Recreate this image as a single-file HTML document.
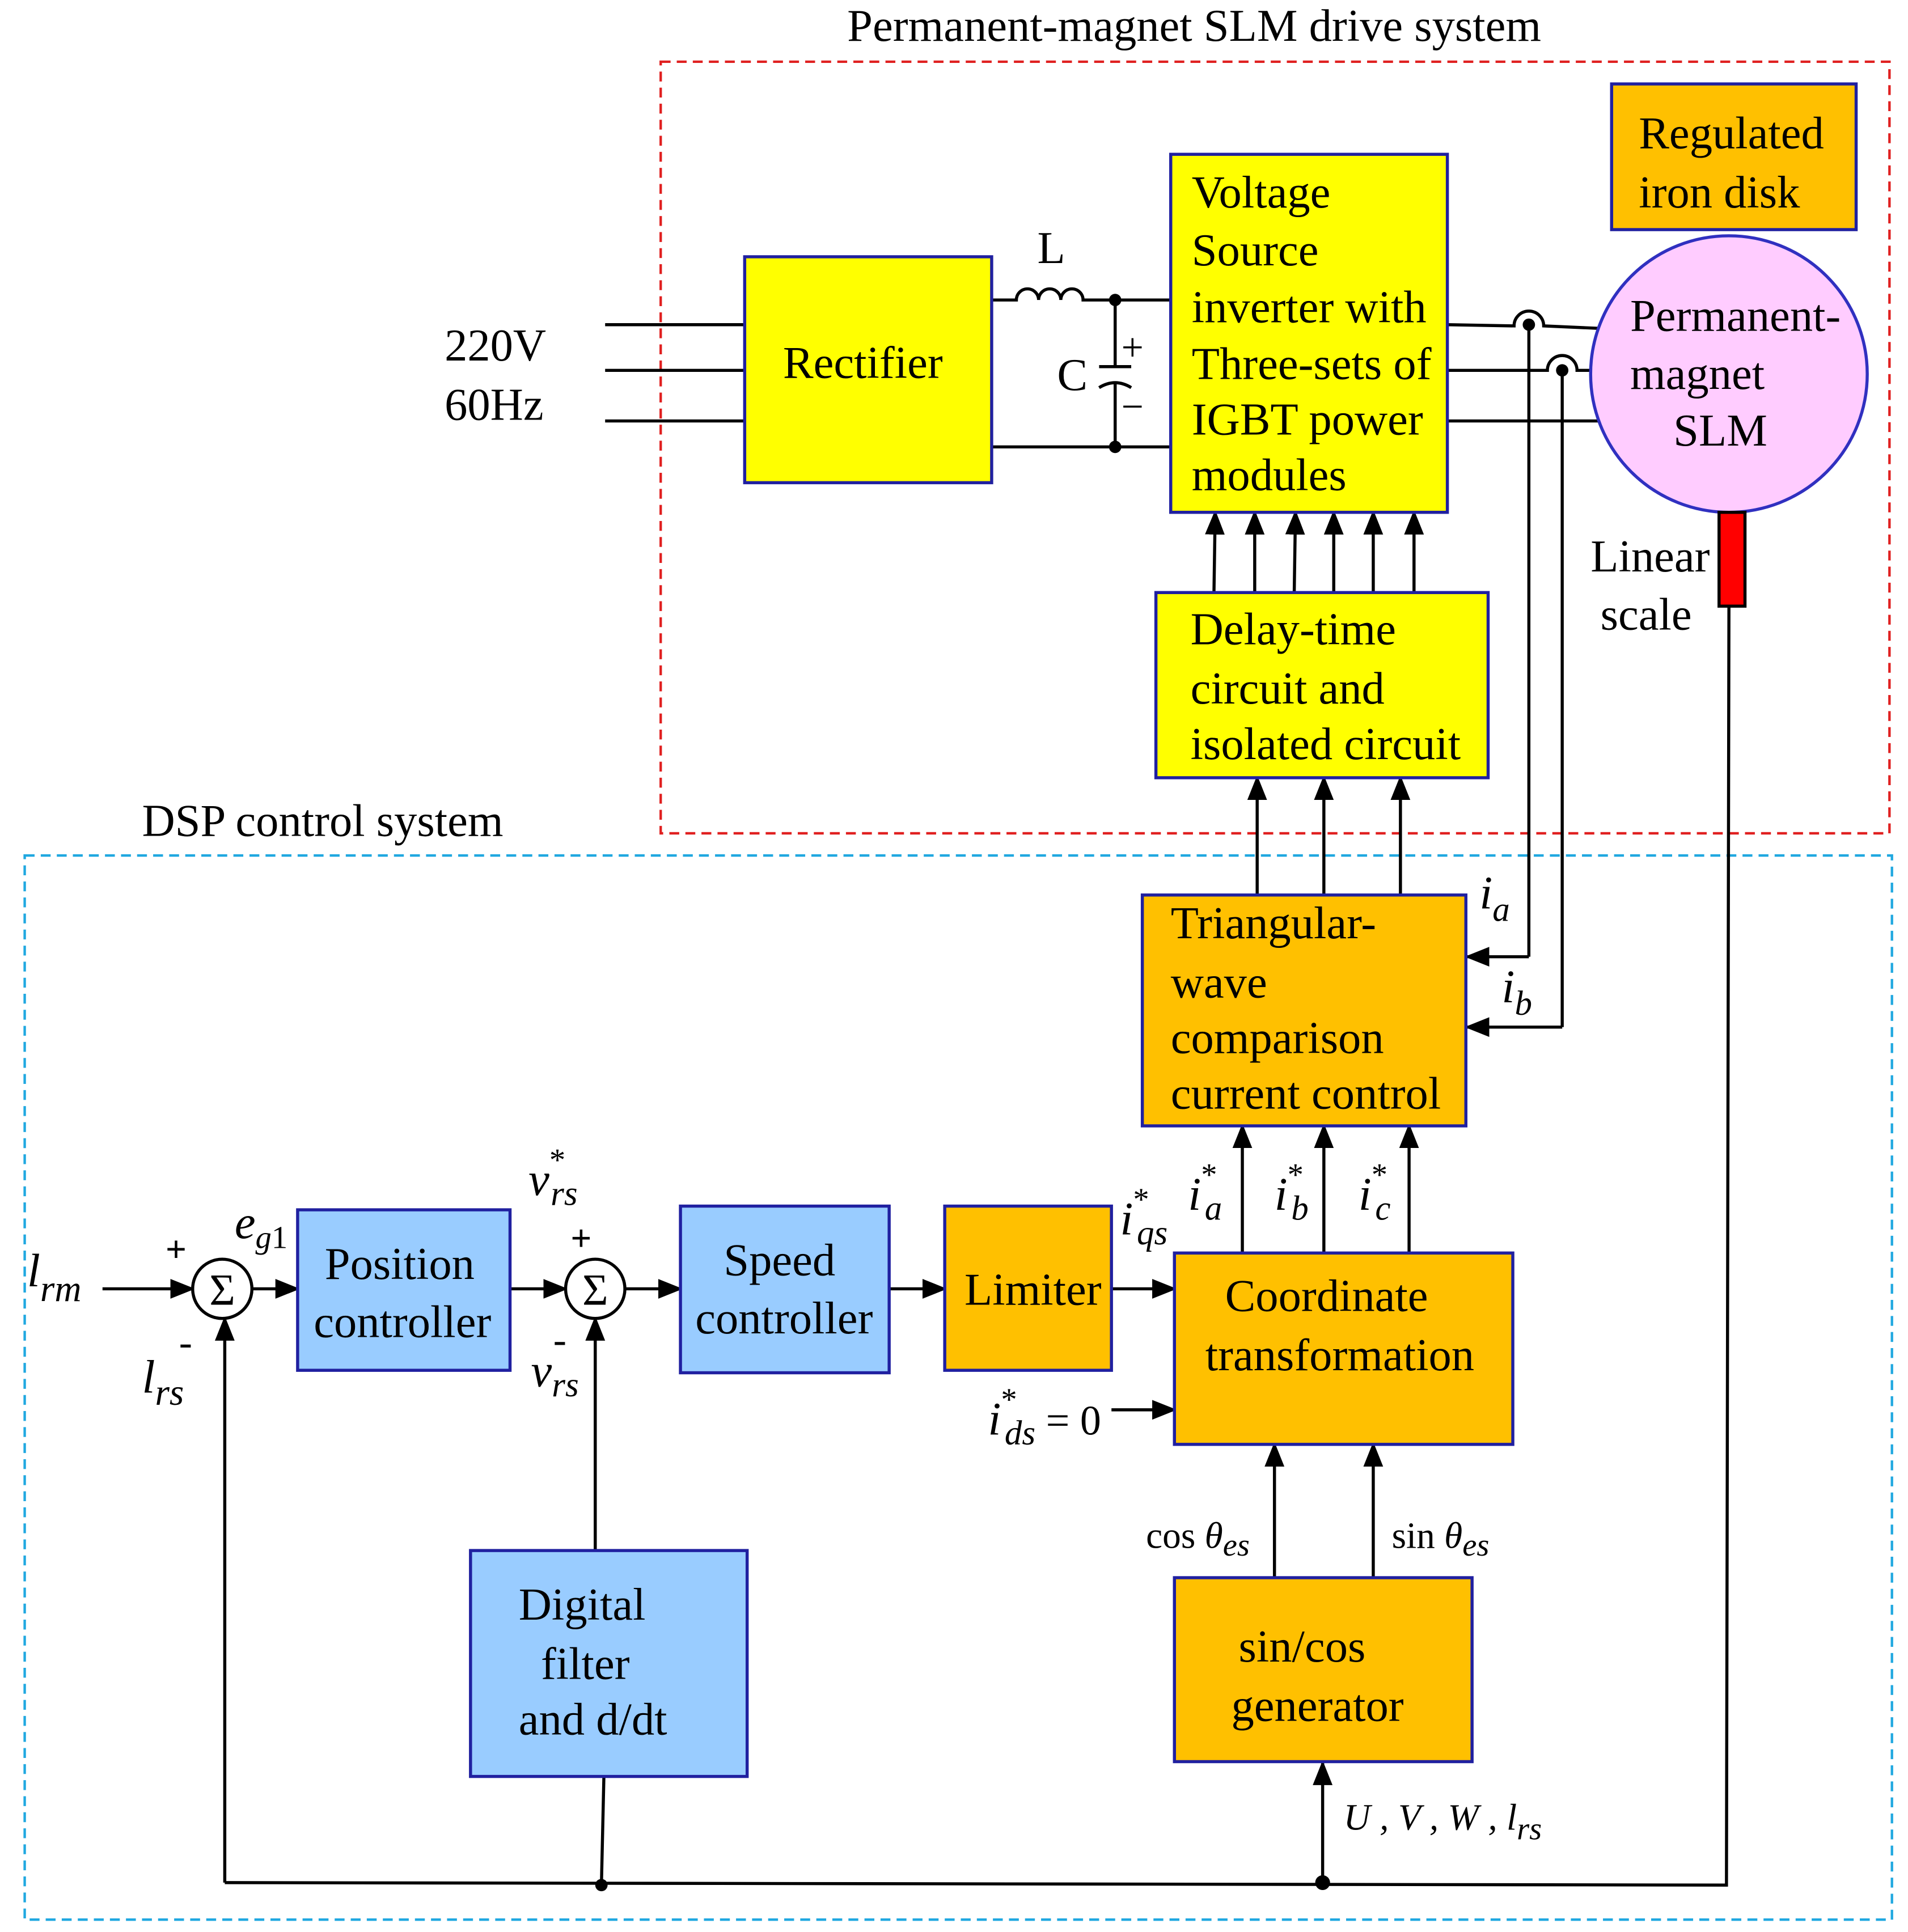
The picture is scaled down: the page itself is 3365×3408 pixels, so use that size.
<!DOCTYPE html>
<html><head><meta charset="utf-8"><style>
html,body{margin:0;padding:0;background:#fff;}
svg{display:block;}
text{font-family:"Liberation Serif",serif;fill:#000;}
.b{font-size:37px;}
.i{font-style:italic;}
</style></head><body>
<svg width="3365" height="3408" viewBox="0 0 1545 1565" preserveAspectRatio="none" xmlns="http://www.w3.org/2000/svg">
<defs>
<marker id="A" markerWidth="20" markerHeight="20" refX="18" refY="10" orient="auto" markerUnits="userSpaceOnUse" viewBox="0 0 20 20">
<path d="M0,2 L20,10 L0,18 z" fill="#000"/></marker>
</defs>
<rect x="0" y="0" width="1545" height="1565" fill="#fff"/>
<rect x="535" y="50" width="995" height="625" fill="none" stroke="#e02020" stroke-width="2" stroke-dasharray="8,5"/>
<rect x="20" y="693" width="1512" height="862" fill="none" stroke="#20a8e0" stroke-width="2" stroke-dasharray="8,5"/>
<text x="967" y="33" font-size="37" text-anchor="middle">Permanent-magnet SLM drive system</text>
<text x="115" y="677" font-size="37">DSP control system</text>

<g stroke="#000" stroke-width="2.5" fill="none">
<line x1="490" y1="263" x2="603" y2="263"/><line x1="490" y1="300" x2="603" y2="300"/><line x1="490" y1="341" x2="603" y2="341"/>
<path d="M803,243 L823,243 a9,9 0 0 1 18,0 a9,9 0 0 1 18,0 a9,9 0 0 1 18,0 L948,243"/>
<path d="M803,362 L948,362"/>
<path d="M903,243 L903,297 M890,297 L916,297 M890,314 Q903,306 916,314 M903,310 L903,362"/>
<path d="M1172,263 L1226,264 a12,12 0 0 1 24,0 L1295,266"/>
<path d="M1172,300 L1253,300 a12,12 0 0 1 24,0 L1290,300"/>
<path d="M1172,341 L1295,341"/>
<line x1="1238" y1="263" x2="1238" y2="775"/>
<line x1="1265" y1="300" x2="1265" y2="832"/>
<line x1="1238" y1="775" x2="1188" y2="775" marker-end="url(#A)"/>
<line x1="1265" y1="832" x2="1188" y2="832" marker-end="url(#A)"/>
<line x1="983" y1="480" x2="984" y2="415" marker-end="url(#A)"/>
<line x1="1016" y1="480" x2="1016" y2="415" marker-end="url(#A)"/>
<line x1="1048" y1="480" x2="1049" y2="415" marker-end="url(#A)"/>
<line x1="1080" y1="480" x2="1080" y2="415" marker-end="url(#A)"/>
<line x1="1112" y1="480" x2="1112" y2="415" marker-end="url(#A)"/>
<line x1="1145" y1="480" x2="1145" y2="415" marker-end="url(#A)"/>
<line x1="1018" y1="725" x2="1018" y2="630" marker-end="url(#A)"/>
<line x1="1072" y1="725" x2="1072" y2="630" marker-end="url(#A)"/>
<line x1="1134" y1="725" x2="1134" y2="630" marker-end="url(#A)"/>
<line x1="1006" y1="1015" x2="1006" y2="912" marker-end="url(#A)"/>
<line x1="1072" y1="1015" x2="1072" y2="912" marker-end="url(#A)"/>
<line x1="1141" y1="1015" x2="1141" y2="912" marker-end="url(#A)"/>
<path d="M1400,491 L1398,1527 L182,1525"/>
<line x1="182" y1="1525" x2="182" y2="1068" marker-end="url(#A)"/>
<line x1="489" y1="1439" x2="487" y2="1527"/>
<line x1="482" y1="1256" x2="482" y2="1068" marker-end="url(#A)"/>
<line x1="1071" y1="1525" x2="1071" y2="1428" marker-end="url(#A)"/>
<line x1="1032" y1="1278" x2="1032" y2="1170" marker-end="url(#A)"/>
<line x1="1112" y1="1278" x2="1112" y2="1170" marker-end="url(#A)"/>
<line x1="83" y1="1044" x2="156" y2="1044" marker-end="url(#A)"/>
<line x1="204" y1="1044" x2="241" y2="1044" marker-end="url(#A)"/>
<line x1="413" y1="1044" x2="458" y2="1044" marker-end="url(#A)"/>
<line x1="506" y1="1044" x2="551" y2="1044" marker-end="url(#A)"/>
<line x1="720" y1="1044" x2="765" y2="1044" marker-end="url(#A)"/>
<line x1="900" y1="1044" x2="951" y2="1044" marker-end="url(#A)"/>
<line x1="900" y1="1142" x2="951" y2="1142" marker-end="url(#A)"/>
</g>
<g fill="#000">
<circle cx="903" cy="243" r="5"/><circle cx="903" cy="362" r="5"/>
<circle cx="1238" cy="263" r="5"/><circle cx="1265" cy="300" r="5"/>
<circle cx="487" cy="1527" r="5"/><circle cx="1071" cy="1525" r="6"/>
</g>

<g stroke="#2020a0" stroke-width="2.5">
<rect x="603" y="208" width="200" height="183" fill="#ffff00"/>
<rect x="948" y="125" width="224" height="290" fill="#ffff00"/>
<rect x="1305" y="68" width="198" height="118" fill="#ffc000"/>
<circle cx="1400" cy="303" r="112" fill="#ffccff" stroke="#3030c0"/>
<rect x="1392" y="415" width="21" height="76" fill="#ff0000" stroke="#000"/>
<rect x="936" y="480" width="269" height="150" fill="#ffff00"/>
<rect x="925" y="725" width="262" height="187" fill="#ffc000"/>
<rect x="951" y="1015" width="274" height="155" fill="#ffc000"/>
<rect x="951" y="1278" width="241" height="149" fill="#ffc000"/>
<rect x="765" y="977" width="135" height="133" fill="#ffc000"/>
<rect x="551" y="977" width="169" height="135" fill="#99ccff"/>
<rect x="241" y="980" width="172" height="130" fill="#99ccff"/>
<rect x="381" y="1256" width="224" height="183" fill="#99ccff"/>
</g>
<circle cx="180" cy="1044" r="24" fill="#fff" stroke="#000" stroke-width="2.5"/>
<circle cx="482" cy="1044" r="24" fill="#fff" stroke="#000" stroke-width="2.5"/>
<text x="180" y="1057" font-size="36" text-anchor="middle">Σ</text>
<text x="482" y="1057" font-size="36" text-anchor="middle">Σ</text>

<g class="b">
<text x="360" y="292">220V</text><text x="360" y="340">60Hz</text>
<text x="840" y="213">L</text><text x="856" y="316">C</text>
<text x="908" y="292" font-size="32">+</text><text x="908" y="340" font-size="32">−</text>
<text x="634" y="306">Rectifier</text>
<text x="965" y="168">Voltage</text><text x="965" y="215">Source</text><text x="965" y="261">inverter with</text>
<text x="965" y="307">Three-sets of</text><text x="965" y="352">IGBT power</text><text x="965" y="397">modules</text>
<text x="1327" y="120">Regulated</text><text x="1327" y="168">iron disk</text>
<text x="1320" y="268">Permanent-</text><text x="1320" y="315">magnet</text><text x="1355" y="361">SLM</text>
<text x="1288" y="463">Linear</text><text x="1296" y="510">scale</text>
<text x="964" y="522">Delay-time</text><text x="964" y="570">circuit and</text><text x="964" y="615">isolated circuit</text>
<text x="948" y="760">Triangular-</text><text x="948" y="808">wave</text><text x="948" y="853">comparison</text><text x="948" y="898">current control</text>
<text x="992" y="1062">Coordinate</text><text x="976" y="1110">transformation</text>
<text x="1003" y="1346">sin/cos</text><text x="997" y="1394">generator</text>
<text x="781" y="1057">Limiter</text>
<text x="586" y="1033">Speed</text><text x="563" y="1080">controller</text>
<text x="263" y="1036">Position</text><text x="254" y="1083">controller</text>
<text x="420" y="1312">Digital</text><text x="438" y="1360">filter</text><text x="420" y="1405">and d/dt</text>
</g>
<g font-size="38">
<text x="22" y="1042" class="i">l<tspan font-size="30" dy="12">rm</tspan></text>
<text x="134" y="1022" font-size="30" font-weight="bold">+</text>
<text x="145" y="1098" font-size="32">-</text>
<text x="115" y="1128" class="i">l<tspan font-size="30" dy="10">rs</tspan></text>
<text x="190" y="1003" class="i">e<tspan font-size="26" dy="8">g</tspan><tspan font-size="26" font-style="normal">1</tspan></text>
<text x="428" y="968" class="i">v<tspan font-size="26" dy="-20" font-style="normal">*</tspan><tspan font-size="28" dx="-12" dy="28">rs</tspan></text>
<text x="462" y="1013" font-size="30" font-weight="bold">+</text>
<text x="448" y="1096" font-size="32">-</text>
<text x="430" y="1123" class="i">v<tspan font-size="28" dy="8">rs</tspan></text>
<text x="907" y="1000" class="i">i<tspan font-size="26" dy="-20" font-style="normal">*</tspan><tspan font-size="28" dx="-10" dy="28">qs</tspan></text>
<text x="800" y="1162" class="i">i<tspan font-size="26" dy="-20" font-style="normal">*</tspan><tspan font-size="28" dx="-10" dy="28">ds</tspan><tspan font-style="normal" font-size="34" dy="-8"> = 0</tspan></text>
<text x="962" y="980" class="i">i<tspan font-size="26" dy="-20" font-style="normal">*</tspan><tspan font-size="28" dx="-10" dy="28">a</tspan></text>
<text x="1032" y="980" class="i">i<tspan font-size="26" dy="-20" font-style="normal">*</tspan><tspan font-size="28" dx="-10" dy="28">b</tspan></text>
<text x="1100" y="980" class="i">i<tspan font-size="26" dy="-20" font-style="normal">*</tspan><tspan font-size="28" dx="-10" dy="28">c</tspan></text>
<text x="1198" y="736" class="i">i<tspan font-size="28" dy="10">a</tspan></text>
<text x="1216" y="812" class="i">i<tspan font-size="28" dy="10">b</tspan></text>
<text x="928" y="1254" font-size="30">cos <tspan class="i">θ</tspan><tspan class="i" font-size="26" dy="6">es</tspan></text>
<text x="1127" y="1254" font-size="30">sin <tspan class="i">θ</tspan><tspan class="i" font-size="26" dy="6">es</tspan></text>
<text x="1088" y="1482" font-size="30" class="i">U , V , W , l<tspan font-size="26" dy="8">rs</tspan></text>
</g>
</svg>
</body></html>
